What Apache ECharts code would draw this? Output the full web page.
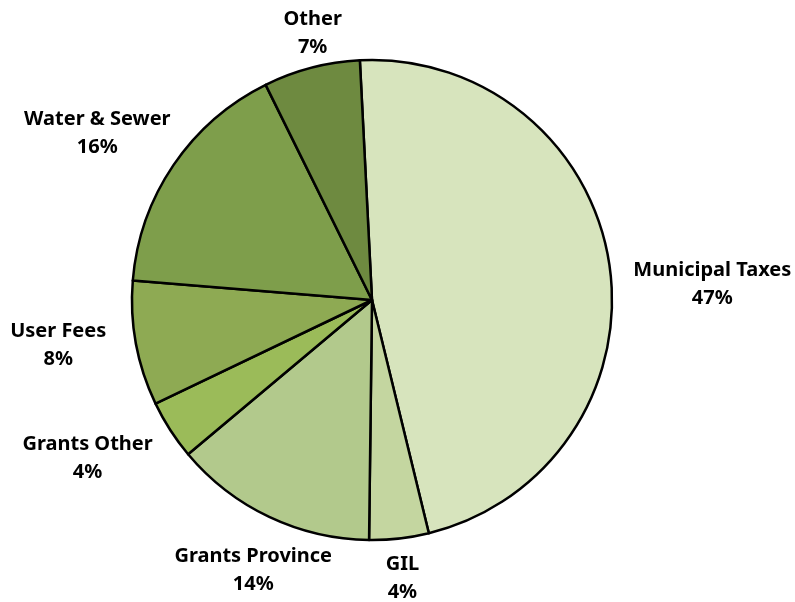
<!DOCTYPE html>
<html>
<head>
<meta charset="utf-8">
<script src="https://cdn.jsdelivr.net/npm/echarts@6/dist/echarts.min.js"></script>
<style>
  html, body { margin: 0; padding: 0; background: #fff; }
  #chart { width: 795px; height: 602px; }
</style>
</head>
<body>
<div id="chart"></div>
<script>
  // revenue shares, clockwise from 12 o'clock
  var categories = ['Municipal Taxes', 'GIL', 'Grants Province', 'Grants Other', 'User Fees', 'Water & Sewer', 'Other'];
  var shares = [47, 4, 13.7, 4, 8.4, 16.4, 6.5];
  var colors = ['#D7E4BD', '#C4D6A0', '#B2C98C', '#9BBB59', '#8EAA53', '#7E9E4B', '#6E8A40'];

  var cx = 372, cy = 300, R = 240, startAngle = 92.9;
  // labels sit just outside the rim along each slice's mid angle, with small hand nudges
  var labelGap = 18;
  var labelNudge = [[6, 33], [-2, -6], [5, 9], [-24, -9], [-12, -10], [-20, 6], [13, 11]];

  var total = shares.reduce(function (a, b) { return a + b; }, 0);
  var midAngles = [];
  var acc = 0;
  shares.forEach(function (v) {
    midAngles.push(startAngle - (acc + v / 2) / total * 360);
    acc += v;
  });

  var pieData = categories.map(function (name, i) {
    return { name: name, value: shares[i], itemStyle: { color: colors[i] } };
  });

  var myChart = echarts.init(document.getElementById('chart'));
  var option = {
    backgroundColor: '#ffffff',
    animation: false,
    series: [
      {
        type: 'pie',
        center: [cx, cy],
        radius: [0, R],
        startAngle: startAngle,
        clockwise: true,
        avoidLabelOverlap: false,
        data: pieData,
        itemStyle: {
          borderColor: '#000000',
          borderWidth: 2.5
        },
        label: {
          show: true,
          position: 'outside',
          color: '#000000',
          fontFamily: 'Noto Sans',
          fontWeight: 'bold',
          fontSize: 20,
          lineHeight: 28,
          align: 'center',
          formatter: function (p) {
            return p.name + '\n' + Math.round(p.value) + '%';
          }
        },
        labelLine: { show: false },
        labelLayout: function (p) {
          var i = p.dataIndex;
          var w = p.labelRect.width, h = p.labelRect.height;
          var a = midAngles[i] * Math.PI / 180;
          var dx = Math.cos(a), dy = -Math.sin(a);
          var t = Math.min(Math.abs(dx) > 1e-6 ? w / 2 / Math.abs(dx) : 1e9,
                           Math.abs(dy) > 1e-6 ? h / 2 / Math.abs(dy) : 1e9);
          var r = R + labelGap + t;
          return {
            x: cx + dx * r + labelNudge[i][0],
            y: cy + dy * r + labelNudge[i][1],
            align: 'center',
            verticalAlign: 'middle'
          };
        },
        emphasis: { disabled: true }
      }
    ]
  };
  myChart.setOption(option);
</script>
</body>
</html>
